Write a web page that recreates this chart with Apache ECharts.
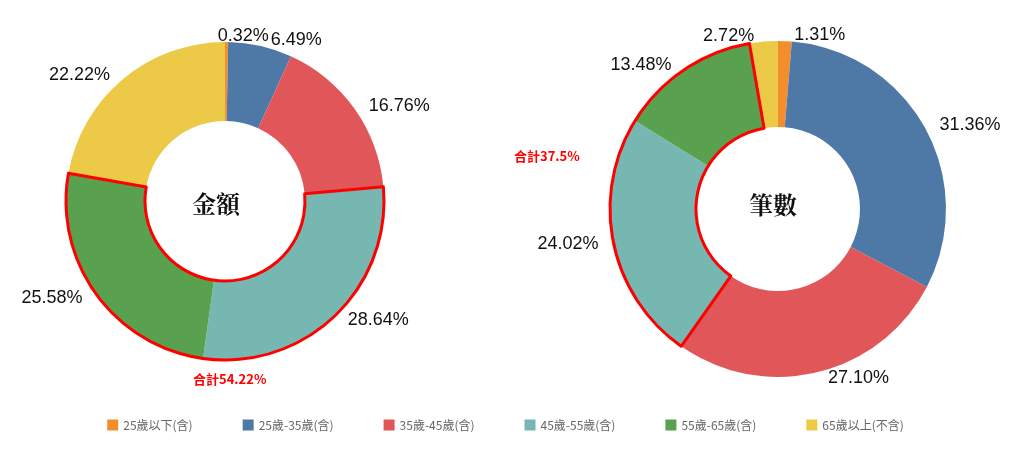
<!DOCTYPE html>
<html><head><meta charset="utf-8">
<script src="https://cdn.jsdelivr.net/npm/echarts@6/dist/echarts.min.js"></script>
<style>body{margin:0;background:#fff}#c{width:1011px;height:450px}</style>
</head><body><div id="c"></div>
<script>
var categories = ['25歲以下(含)', '25歲-35歲(含)', '35歲-45歲(含)', '45歲-55歲(含)', '55歲-65歲(含)', '65歲以上(不含)'];
var amountPct = [0.32, 6.49, 16.76, 28.64, 25.58, 22.22];
var countPct = [1.31, 31.36, 27.10, 24.02, 13.48, 2.72];
var colors = ['#f28e2b', '#4e79a7', '#e15759', '#76b7b2', '#59a14f', '#edc948'];
var amountTotal = '合計54.22%';
var countTotal = '合計37.5%';

var chart = echarts.init(document.getElementById('c'));
var font = '"Noto Sans CJK TC", sans-serif';

function donut(vals, center, radius, firstDx) {
  return {
    type: 'pie', center: center, radius: radius, startAngle: 90, clockwise: true,
    avoidLabelOverlap: false, silent: true, minShowLabelAngle: 0,
    itemStyle: { borderColor: '#fff', borderWidth: 0 },
    label: { show: true, position: 'outside', formatter: '{c}%', color: '#111', fontSize: 18, fontFamily: 'Arial, "Liberation Sans"' },
    labelLine: { show: false, length: 6, length2: 4 },
    labelLayout: function (p) { return { hideOverlap: false, dx: p.dataIndex === 0 ? firstDx : 0 }; },
    data: vals.map(function (v, i) { return { name: categories[i], value: v.toFixed(2) }; })
  };
}
// 外框：把 45-65 兩段合成一塊描紅邊
function outline(vals, center, radius) {
  var a = vals[0] + vals[1] + vals[2], b = vals[3] + vals[4], c = vals[5];
  var none = { color: 'transparent', borderWidth: 0 };
  return {
    type: 'pie', center: center, radius: radius, startAngle: 90, silent: true, z: 5,
    label: { show: false }, labelLine: { show: false }, legendHoverLink: false,
    data: [
      { value: a, name: 'o1', itemStyle: none },
      { value: b, name: 'o2', itemStyle: { color: 'transparent', borderColor: '#ff0000', borderWidth: 3 } },
      { value: c, name: 'o3', itemStyle: none }
    ]
  };
}

chart.setOption({
  color: colors,
  legend: {
    data: categories, bottom: 14, left: 'center', itemGap: 50,
    itemWidth: 11, itemHeight: 11, icon: 'rect',
    textStyle: { color: '#666', fontSize: 12, fontFamily: font }
  },
  graphic: [
    { type: 'text', left: 192, top: 192, style: { text: '金額', font: 'bold 24px "Noto Serif CJK TC", serif', fill: '#111' } },
    { type: 'text', left: 749, top: 193, style: { text: '筆數', font: 'bold 24px "Noto Serif CJK TC", serif', fill: '#111' } },
    { type: 'text', left: 193, top: 373, style: { text: amountTotal, font: 'bold 13px ' + font, fill: '#ff0000' } },
    { type: 'text', left: 514, top: 150, style: { text: countTotal, font: 'bold 13px ' + font, fill: '#ff0000' } }
  ],
  series: [
    donut(amountPct, [225, 201], [80, 159], -18),
    outline(amountPct, [225, 201], [80, 159]),
    donut(countPct, [778, 209], [82, 168], 0),
    outline(countPct, [778, 209], [82, 168])
  ]
});
</script></body></html>
